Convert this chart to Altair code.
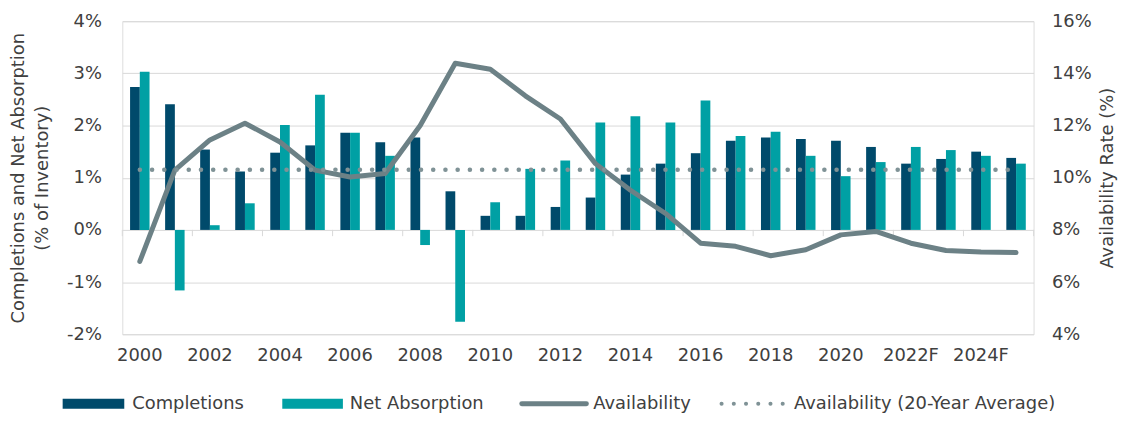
import altair as alt
import pandas as pd

years = ['2000', '2001', '2002', '2003', '2004', '2005', '2006', '2007', '2008', '2009',
         '2010', '2011', '2012', '2013', '2014', '2015', '2016', '2017', '2018', '2019',
         '2020', '2021', '2022F', '2023F', '2024F', '2025F']
completions = [2.74, 2.41, 1.54, 1.12, 1.48, 1.62, 1.86, 1.68, 1.77, 0.74,
               0.27, 0.27, 0.44, 0.62, 1.06, 1.27, 1.47, 1.71, 1.77, 1.74,
               1.71, 1.59, 1.27, 1.36, 1.50, 1.38]
net_absorption = [3.03, -1.16, 0.09, 0.51, 2.01, 2.59, 1.86, 1.42, -0.29, -1.76,
                  0.53, 1.17, 1.33, 2.06, 2.18, 2.06, 2.48, 1.80, 1.88, 1.42,
                  1.03, 1.30, 1.59, 1.53, 1.42, 1.27]
availability = [6.79, 10.29, 11.45, 12.09, 11.37, 10.29, 10.03, 10.16, 12.00, 14.39,
                14.16, 13.14, 12.25, 10.54, 9.52, 8.63, 7.49, 7.37, 7.01, 7.24,
                7.81, 7.94, 7.49, 7.21, 7.15, 7.13]
availability_avg = 10.31
label_years = ['2000', '2002', '2004', '2006', '2008', '2010', '2012', '2014',
               '2016', '2018', '2020', '2022F', '2024F']
series_names = ['Completions', 'Net Absorption']

FONT = 'DejaVu Sans'
FS = 18
TXT = '#404040'
C_COMP = '#004A6B'
C_NA = '#00A0A4'
C_LINE = '#6C8186'
C_AVG = '#7F9296'
GRID = '#D9D9D9'

bars_df = pd.DataFrame({
    'year': years * 2,
    'series': ['Completions'] * len(years) + ['Net Absorption'] * len(years),
    'value': completions + net_absorption,
})
line_df = pd.DataFrame({'year': years, 'avail': availability,
                        'avg': [availability_avg] * len(years)})
tick_df = pd.DataFrame({'year': label_years})
end_df = pd.DataFrame({'year': [years[-1]]})

x_scale = alt.Scale(domain=years, paddingInner=0, paddingOuter=0)
x_enc = alt.X('year:N', scale=x_scale, sort=years,
              axis=alt.Axis(values=label_years, title=None, labelAngle=0, ticks=False,
                            domain=False, grid=False, labelPadding=12,
                            labelFont=FONT, labelFontSize=FS, labelColor=TXT))

y_left = alt.Scale(domain=[-2, 4], nice=False, zero=False)
y_left_axis = alt.Axis(values=[-2, -1, 0, 1, 2, 3, 4], labelExpr="datum.value + '%'",
                       title=['Completions and Net Absorption', '(% of Inventory)'],
                       titleAngle=270, titleBaseline='top', titleX=-113, titleY=157.5,
                       titleFont=FONT, titleFontSize=FS, titleFontWeight='normal',
                       titleColor=TXT, titleLineHeight=24,
                       labelFont=FONT, labelFontSize=FS, labelColor=TXT, labelPadding=21,
                       ticks=False, domain=False, grid=True, gridColor=GRID)

bars = alt.Chart(bars_df).mark_bar().encode(
    x=x_enc,
    xOffset=alt.XOffset('series:N', sort=series_names,
                        scale=alt.Scale(paddingOuter=0.8, paddingInner=0)),
    y=alt.Y('value:Q', scale=y_left, axis=y_left_axis),
    color=alt.Color('series:N', scale=alt.Scale(domain=series_names, range=[C_COMP, C_NA]),
                    legend=None),
)

ticks = alt.Chart(tick_df).mark_rule(color=GRID, strokeWidth=1).encode(
    x=alt.X('year:N', scale=x_scale, sort=years, bandPosition=0),
    y=alt.datum(0), y2=alt.datum(-0.12),
)
end_tick = alt.Chart(end_df).mark_rule(color=GRID, strokeWidth=1).encode(
    x=alt.X('year:N', scale=x_scale, sort=years, bandPosition=1),
    y=alt.datum(0), y2=alt.datum(-0.12),
)

y_right = alt.Scale(domain=[4, 16], nice=False, zero=False)
y_right_axis = alt.Axis(orient='right', values=[4, 6, 8, 10, 12, 14, 16],
                        labelExpr="datum.value + '%'", title='Availability Rate (%)',
                        titleAngle=270, titleBaseline='top', titleX=65, titleY=157.5,
                        titleFont=FONT, titleFontSize=FS, titleFontWeight='normal',
                        titleColor=TXT, labelFont=FONT, labelFontSize=FS, labelColor=TXT,
                        labelPadding=18, ticks=False, domain=False, grid=False)

avail_line = alt.Chart(line_df).mark_line(color=C_LINE, strokeWidth=5, strokeJoin='round',
                                          strokeCap='round').encode(
    x=alt.X('year:N', scale=x_scale, sort=years),
    y=alt.Y('avail:Q', scale=y_right, axis=y_right_axis),
)
avg_line = alt.Chart(line_df).mark_line(color=C_AVG, strokeWidth=4.5, strokeCap='round',
                                        strokeDash=[0.1, 12.2]).encode(
    x=alt.X('year:N', scale=x_scale, sort=years),
    y=alt.Y('avg:Q', scale=y_right),
)

one = pd.DataFrame({'k': [0]})
LY = 385
leg = [
    alt.Chart(one).mark_rect(color=C_COMP).encode(
        x=alt.value(-60), x2=alt.value(2), y=alt.value(LY - 5), y2=alt.value(LY + 5)),
    alt.Chart(one).mark_text(text='Completions', align='left', baseline='middle',
                             font=FONT, fontSize=FS, color=TXT).encode(
        x=alt.value(10), y=alt.value(LY)),
    alt.Chart(one).mark_rect(color=C_NA).encode(
        x=alt.value(161), x2=alt.value(222), y=alt.value(LY - 5), y2=alt.value(LY + 5)),
    alt.Chart(one).mark_text(text='Net Absorption', align='left', baseline='middle',
                             font=FONT, fontSize=FS, color=TXT).encode(
        x=alt.value(229), y=alt.value(LY)),
    alt.Chart(one).mark_rule(color=C_LINE, strokeWidth=5, strokeCap='round').encode(
        x=alt.value(402), x2=alt.value(467), y=alt.value(LY)),
    alt.Chart(one).mark_text(text='Availability', align='left', baseline='middle',
                             font=FONT, fontSize=FS, color=TXT).encode(
        x=alt.value(474), y=alt.value(LY)),
    alt.Chart(one).mark_rule(color=C_AVG, strokeWidth=4, strokeCap='round',
                             strokeDash=[0.1, 12.2]).encode(
        x=alt.value(603), x2=alt.value(668), y=alt.value(LY)),
    alt.Chart(one).mark_text(text='Availability (20-Year Average)', align='left',
                             baseline='middle', font=FONT, fontSize=FS, color=TXT).encode(
        x=alt.value(676), y=alt.value(LY)),
]

left = alt.layer(bars, ticks, end_tick, *leg)
right = alt.layer(avail_line, avg_line)

chart = alt.layer(left, right).resolve_scale(y='independent').properties(
    width=917, height=315,
    autosize=alt.AutoSizeParams(type='none'),
    padding={'left': 115, 'top': 12, 'right': 93, 'bottom': 86},
).configure_view(stroke=None).configure(background='white')

chart.save('out.html', embed_options={'renderer': 'svg', 'actions': False})
